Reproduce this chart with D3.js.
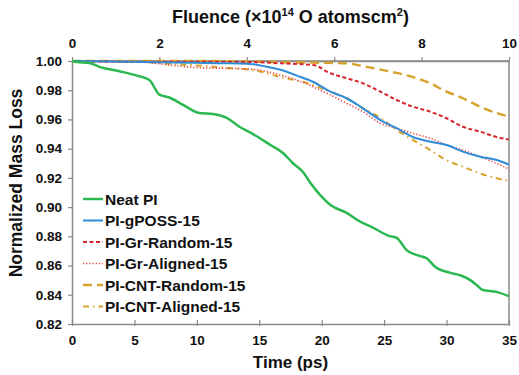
<!DOCTYPE html>
<html>
<head>
<meta charset="utf-8">
<script src="https://cdn.jsdelivr.net/npm/d3@7"></script>
<style>
  body { margin: 0; background: #fff; }
  svg text { font-family: Arial, "Liberation Sans", sans-serif; font-weight: bold; fill: #111; }
</style>
</head>
<body>
<svg id="chart" width="519" height="375"></svg>
<script>
/* ── Data ──────────────────────────────────────────────────── */
const neatT   = [0, 0.4, 1.4, 2.2, 3.8, 5.2, 6.2, 7.0, 7.8, 8.9, 10.2, 11.3, 12.4, 13.4, 14.5, 15.9, 16.9, 17.7, 18.5, 19.1, 19.9, 20.7, 22.0, 23.1, 24.1, 25.5, 26.0, 26.8, 27.9, 28.4, 29.1, 30.3, 31.2, 31.9, 32.4, 32.9, 34.0, 35];
const neatV   = [1.0, 0.9993, 0.9986, 0.996, 0.993, 0.990, 0.987, 0.977, 0.975, 0.970, 0.9644, 0.9637, 0.961, 0.955, 0.950, 0.9425, 0.937, 0.930, 0.924, 0.9165, 0.908, 0.9014, 0.896, 0.890, 0.886, 0.880, 0.879, 0.8706, 0.8665, 0.865, 0.859, 0.855, 0.853, 0.850, 0.8467, 0.8433, 0.842, 0.839];

const possT   = [0, 5, 8, 11.6, 14.3, 15.6, 16.9, 18.0, 19.3, 20.7, 22.0, 23.3, 24.7, 26.0, 27.3, 28.7, 30.0, 31.3, 32.7, 34.0, 35];
const possV   = [1.0, 0.9995, 0.999, 0.9985, 0.998, 0.996, 0.9935, 0.990, 0.9858, 0.979, 0.9745, 0.9676, 0.9596, 0.954, 0.948, 0.9448, 0.9425, 0.938, 0.9345, 0.9322, 0.929];

const grRandT = [0, 5, 10, 14.3, 16.7, 19.3, 20.7, 22.0, 23.3, 24.7, 26.0, 27.3, 28.7, 30.0, 31.3, 32.7, 34.0, 35];
const grRandV = [1.0, 0.9995, 0.9995, 0.9993, 0.9984, 0.9973, 0.9916, 0.9882, 0.9847, 0.979, 0.9733, 0.9687, 0.9653, 0.9608, 0.955, 0.9516, 0.948, 0.9462];

const grAlT   = [0, 4, 6, 8, 10, 12, 14.3, 16.7, 18.0, 19.3, 20.7, 22.0, 23.3, 24.7, 26.0, 27.3, 28.7, 30.0, 31.3, 32.7, 34.0, 35];
const grAlV   = [1.0, 0.9995, 0.999, 0.997, 0.9955, 0.995, 0.9945, 0.9904, 0.987, 0.9824, 0.9767, 0.971, 0.9653, 0.9573, 0.954, 0.9505, 0.947, 0.9425, 0.939, 0.9345, 0.930, 0.926];

const cntRandT = [0, 10, 15, 18, 20, 22.0, 23.6, 25.5, 27.3, 28.7, 30.0, 31.3, 32.7, 34.0, 35];
const cntRandV = [1.0, 1.0, 0.9995, 0.999, 0.9988, 0.9984, 0.996, 0.9927, 0.989, 0.9847, 0.979, 0.9745, 0.9687, 0.9644, 0.962];

const cntAlT  = [0, 5, 8, 10, 12.1, 15, 16.7, 18.8, 20.7, 22.0, 23.3, 24.7, 26.0, 27.3, 28.7, 30.0, 31.3, 32.7, 34.0, 35];
const cntAlV  = [1.0, 0.9995, 0.998, 0.997, 0.9955, 0.993, 0.989, 0.985, 0.979, 0.9745, 0.9676, 0.961, 0.9528, 0.946, 0.939, 0.932, 0.9277, 0.923, 0.9197, 0.918];

const seriesNames = ["Neat PI", "PI-gPOSS-15", "PI-Gr-Random-15", "PI-Gr-Aligned-15", "PI-CNT-Random-15", "PI-CNT-Aligned-15"];
const timeTicks    = [0, 5, 10, 15, 20, 25, 30, 35];
const fluenceTicks = [0, 2, 4, 6, 8, 10];
const massTicks    = [0.82, 0.84, 0.86, 0.88, 0.90, 0.92, 0.94, 0.96, 0.98, 1.00];

/* ── Styles per series ─────────────────────────────────────── */
const STYLES = [
  { color: "#2cb850", width: 2.5, dash: null },
  { color: "#2f8cd8", width: 2.0, dash: null },
  { color: "#d9262c", width: 2.0, dash: "4,2.5" },
  { color: "#e8413f", width: 1.6, dash: "1.2,2" },
  { color: "#d6a22c", width: 2.4, dash: "9,5" },
  { color: "#d6a22c", width: 2.0, dash: "6,4,1.5,4" },
];

const series = [
  [neatT, neatV], [possT, possV], [grRandT, grRandV],
  [grAlT, grAlV], [cntRandT, cntRandV], [cntAlT, cntAlV],
].map(([t, v], i) => ({ name: seriesNames[i], pts: t.map((x, j) => [x, v[j]]), style: STYLES[i] }));

/* ── Layout ───────────────────────────────────────────────── */
const L = 72, R = 509, T = 61, B = 324;
const svg = d3.select("#chart");
const AXIS = "#8a8a8a";

const x  = d3.scaleLinear().domain([0, 35]).range([L, R]);
const xf = d3.scaleLinear().domain([0, 10]).range([L, R]);
const y  = d3.scaleLinear().domain([0.82, 1.0]).range([B, T]);

/* Frame: top + right lines */
svg.append("line").attr("x1", L).attr("x2", R).attr("y1", T).attr("y2", T)
  .attr("stroke", AXIS).attr("stroke-width", 1.5);
svg.append("line").attr("x1", R).attr("x2", R).attr("y1", T).attr("y2", B)
  .attr("stroke", AXIS).attr("stroke-width", 1.5);

/* Bottom axis (time) */
const gx = svg.append("g").attr("transform", `translate(0,${B})`)
  .call(d3.axisBottom(x).tickValues(timeTicks).tickSize(4).tickPadding(7).tickSizeOuter(0));
gx.selectAll(".tick line").attr("y1", -4).attr("y2", 2);

/* Top axis (fluence) */
const gt = svg.append("g").attr("transform", `translate(0,${T})`)
  .call(d3.axisTop(xf).tickValues(fluenceTicks).tickSize(4).tickPadding(9).tickSizeOuter(0));

/* Left axis */
const gy = svg.append("g").attr("transform", `translate(${L},0)`)
  .call(d3.axisLeft(y).tickValues(massTicks).tickFormat(d3.format(".2f")).tickSize(4).tickPadding(6).tickSizeOuter(0));

[gx, gt, gy].forEach(g => {
  g.select(".domain").attr("stroke", AXIS).attr("stroke-width", 1.5);
  g.selectAll(".tick line").attr("stroke", AXIS).attr("stroke-width", 1.2);
  g.selectAll(".tick text").attr("font-size", 13.5).attr("font-weight", "bold")
    .attr("font-family", "Arial, 'Liberation Sans', sans-serif").attr("fill", "#111");
});

/* Lines */
const line = d3.line().x(d => x(d[0])).y(d => y(d[1])).curve(d3.curveMonotoneX);
const linesG = svg.append("g");
series.slice().reverse().forEach(s => {
  linesG.append("path").datum(s.pts)
    .attr("fill", "none")
    .attr("stroke", s.style.color)
    .attr("stroke-width", s.style.width)
    .attr("stroke-dasharray", s.style.dash)
    .attr("d", line);
});

/* Legend */
const lg = svg.append("g").attr("transform", "translate(83,199)");
series.forEach((s, i) => {
  const row = lg.append("g").attr("transform", `translate(0,${i * 21.5})`);
  row.append("line").attr("x1", 0).attr("x2", 20).attr("y1", 0).attr("y2", 0)
    .attr("stroke", s.style.color).attr("stroke-width", s.style.width)
    .attr("stroke-dasharray", s.style.dash);
  row.append("text").attr("x", 22).attr("y", 5.5).attr("font-size", 15.5).text(s.name);
});

/* Axis titles */
svg.append("text").attr("x", (L + R) / 2).attr("y", 368).attr("text-anchor", "middle")
  .attr("font-size", 17).text("Time (ps)");

svg.append("text").attr("transform", "translate(22,183) rotate(-90)")
  .attr("text-anchor", "middle").attr("font-size", 17.5).text("Normalized Mass Loss");

const ft = svg.append("text").attr("x", (L + R) / 2).attr("y", 23).attr("text-anchor", "middle")
  .attr("font-size", 18);
ft.append("tspan").text("Fluence (×10");
ft.append("tspan").attr("dy", -7).attr("font-size", 11).text("14");
ft.append("tspan").attr("dy", 7).text(" O atomscm");
ft.append("tspan").attr("dy", -7).attr("font-size", 11).text("2");
ft.append("tspan").attr("dy", 7).text(")");
</script>
</body>
</html>
